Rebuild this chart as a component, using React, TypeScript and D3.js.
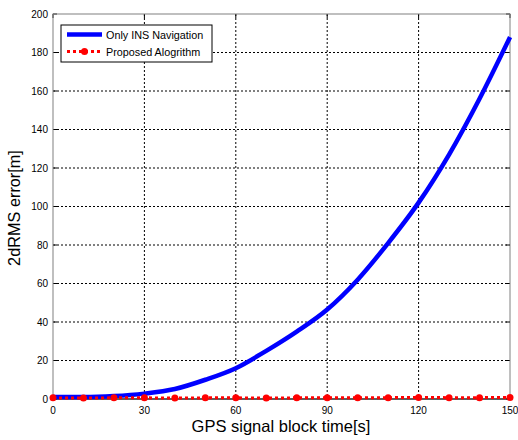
import React from "react";
import * as d3 from "d3";

const times = [0, 10, 20, 30, 40, 50, 60, 70, 80, 90, 100, 110, 120, 130, 140, 150];
const insOnly = [1, 1, 1.5, 2.8, 5.2, 10, 16, 25, 35, 46.5, 62, 81, 102, 127, 156, 188];
const proposed = [0.6, 0.5, 0.6, 0.6, 0.5, 0.6, 0.6, 0.5, 0.6, 0.6, 0.6, 0.7, 0.8, 0.7, 0.7, 0.8];
const xTicks = [0, 30, 60, 90, 120, 150];
const yTicks = [0, 20, 40, 60, 80, 100, 120, 140, 160, 180, 200];
const seriesNames = ["Only INS Navigation", "Proposed Alogrithm"];

export default function App() {
  const W = 518, H = 440;
  const L = 53, R = 510, T = 14, B = 399;
  const x = d3.scaleLinear().domain([0, 150]).range([L, R]);
  const y = d3.scaleLinear().domain([0, 200]).range([B, T]);
  const line = d3.line<number>().x((_, i) => x(times[i])).y((d) => y(d)).curve(d3.curveMonotoneX);
  const font = "Arial, 'Liberation Sans', sans-serif";
  return (
    <svg width={W} height={H} style={{ position: "absolute", left: 0, top: 0, background: "#fff" }}>
      <rect x={0} y={0} width={W} height={H} fill="#fff" />
      {xTicks.map((t) => (
        <g key={"x" + t}>
          {t > 0 && t < 150 && <line x1={x(t)} x2={x(t)} y1={T} y2={B} stroke="#000" strokeWidth={1} strokeDasharray="2,2" />}
          <line x1={x(t)} x2={x(t)} y1={B} y2={B - 4} stroke="#000" />
          <line x1={x(t)} x2={x(t)} y1={T} y2={T + 4} stroke="#000" />
          <text x={x(t)} y={B + 15} textAnchor="middle" fontSize={10} fontFamily={font}>{t}</text>
        </g>
      ))}
      {yTicks.map((t) => (
        <g key={"y" + t}>
          {t > 0 && t < 200 && <line x1={L} x2={R} y1={y(t)} y2={y(t)} stroke="#000" strokeWidth={1} strokeDasharray="2,2" />}
          <line x1={L} x2={L + 4} y1={y(t)} y2={y(t)} stroke="#000" />
          <line x1={R} x2={R - 4} y1={y(t)} y2={y(t)} stroke="#000" />
          <text x={L - 5} y={y(t) + 3.5} textAnchor="end" fontSize={10} fontFamily={font}>{t}</text>
        </g>
      ))}
      <rect x={L} y={T} width={R - L} height={B - T} fill="none" stroke="#808080" strokeWidth={1} />
      <line x1={L} x2={R} y1={B} y2={B} stroke="#000" />
      <path d={line(insOnly) || ""} fill="none" stroke="#0000ff" strokeWidth={4.5} />
      <path d={d3.line<number>().x((_, i) => x(times[i])).y((d) => y(d))(proposed) || ""} fill="none" stroke="#ff0000" strokeWidth={3} strokeDasharray="3,3" />
      {proposed.map((v, i) => (
        <circle key={i} cx={x(times[i])} cy={y(v)} r={3.5} fill="#ff0000" />
      ))}
      <g>
        <rect x={61} y={25} width={151} height={37} fill="#fff" stroke="#000" strokeWidth={1} />
        <line x1={67} x2={102} y1={34.5} y2={34.5} stroke="#0000ff" strokeWidth={4.5} />
        <text x={106} y={39} fontSize={10.8} fontFamily={font}>{seriesNames[0]}</text>
        <line x1={67} x2={102} y1={51.5} y2={51.5} stroke="#ff0000" strokeWidth={3} strokeDasharray="3,3" />
        <circle cx={84.5} cy={51.5} r={3.5} fill="#ff0000" />
        <text x={106} y={56} fontSize={10.8} fontFamily={font}>{seriesNames[1]}</text>
      </g>
      <text x={281} y={432} textAnchor="middle" fontSize={16.5} fontFamily={font}>GPS signal block time[s]</text>
      <text transform={`translate(19.5,208) rotate(-90)`} textAnchor="middle" fontSize={16.3} fontFamily={font}>2dRMS error[m]</text>
    </svg>
  );
}
